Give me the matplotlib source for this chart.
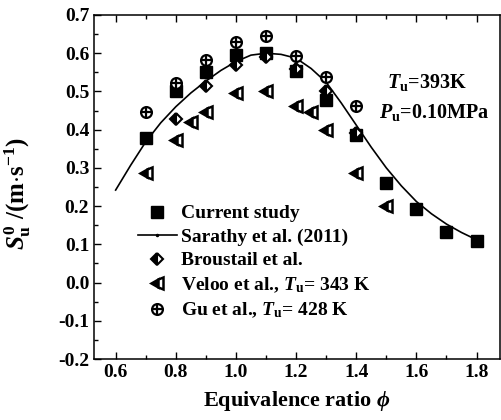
import matplotlib
matplotlib.use('Agg')
import matplotlib.pyplot as plt
from matplotlib.lines import Line2D
from matplotlib.ticker import MultipleLocator

plt.rcParams['font.family'] = ['Liberation Serif', 'DejaVu Serif']
plt.rcParams['font.weight'] = 'bold'
plt.rcParams['axes.unicode_minus'] = False
plt.rcParams['mathtext.fontset'] = 'custom'
plt.rcParams['mathtext.rm'] = 'Liberation Serif:bold'
plt.rcParams['mathtext.it'] = 'Liberation Serif:bold:italic'
plt.rcParams['mathtext.bf'] = 'Liberation Serif:bold'

# current study
cur_phi = [0.7, 0.8, 0.9, 1.0, 1.1, 1.2, 1.3, 1.4, 1.5, 1.6, 1.7, 1.8]
cur_su = [0.379, 0.500, 0.552, 0.595, 0.600, 0.554, 0.478, 0.385, 0.261, 0.192, 0.131, 0.109]

# Sarathy et al. (2011) model
sar_phi = [0.6, 0.65, 0.7, 0.75, 0.8, 0.85, 0.9, 0.95, 1.0, 1.05, 1.1, 1.15, 1.2,
           1.25, 1.3, 1.35, 1.4, 1.45, 1.5, 1.55, 1.6, 1.65, 1.7, 1.75, 1.8]
sar_su = [0.242, 0.307, 0.368, 0.418, 0.460, 0.496, 0.527, 0.555, 0.578, 0.595, 0.600, 0.597, 0.587,
          0.560, 0.524, 0.470, 0.412, 0.354, 0.300, 0.253, 0.212, 0.180, 0.153, 0.131, 0.112]

# Broustail et al.
bro_phi = [0.8, 0.9, 1.0, 1.1, 1.2, 1.3, 1.4]
bro_su = [0.427, 0.514, 0.569, 0.589, 0.560, 0.500, 0.390]

# Veloo et al., Tu = 343 K
vel_phi = [0.7, 0.8, 0.85, 0.9, 1.0, 1.1, 1.2, 1.25, 1.3, 1.4, 1.5]
vel_su = [0.287, 0.373, 0.421, 0.447, 0.495, 0.500, 0.462, 0.445, 0.399, 0.287, 0.201]

# Gu et al., Tu = 428 K
gu_phi = [0.7, 0.8, 0.9, 1.0, 1.1, 1.2, 1.3, 1.4]
gu_su = [0.445, 0.521, 0.582, 0.630, 0.645, 0.593, 0.537, 0.462]

fig = plt.figure(figsize=(5.01, 4.2), dpi=100)
ax = fig.add_axes([0.1876, 0.1452, 0.8104, 0.8191])

ax.plot(sar_phi, sar_su, color='black', lw=1.2)
sq, = ax.plot(cur_phi, cur_su, 's', color='black', ms=8, ls='none')
dia, = ax.plot(bro_phi, bro_su, 'D', ms=6.6, ls='none', mec='black', mfc='black',
               fillstyle='left', markerfacecoloralt='white', mew=1.5)
tri, = ax.plot(vel_phi, vel_su, '<', ms=9, ls='none', mec='black', mfc='black',
               fillstyle='left', markerfacecoloralt='white', mew=1.8)
gc, = ax.plot(gu_phi, gu_su, 'o', ms=7.8, ls='none', mec='black', mfc='white', mew=1.6)
gp, = ax.plot(gu_phi, gu_su, '+', ms=7.8, ls='none', color='black', mew=1.6)
line = Line2D([], [], color='black', lw=1.2, marker='.', ms=3)

ax.set_xlim(0.528, 1.878)
ax.set_ylim(-0.2, 0.7)
ax.xaxis.set_major_locator(MultipleLocator(0.2))
ax.xaxis.set_minor_locator(MultipleLocator(0.1))
ax.yaxis.set_major_locator(MultipleLocator(0.1))
ax.yaxis.set_minor_locator(MultipleLocator(0.05))
ax.tick_params(which='both', direction='in', top=True, right=False, labelsize=14)
ax.tick_params(which='major', length=5, width=1)
ax.tick_params(which='minor', length=3, width=1)
for lab in ax.get_xticklabels() + ax.get_yticklabels():
    lab.set_fontweight('bold')
for s in ax.spines.values():
    s.set_linewidth(1.1)

ax.set_xlabel(r'Equivalence ratio $\phi$', fontsize=16, fontweight='bold', labelpad=6)
ax.set_ylabel(r'$S_{\rm u}^{0}$ /(m$\cdot$s$^{-1}$)', fontsize=18, fontweight='bold')
ax.yaxis.set_label_coords(-0.15, 0.48)

ax.text(0.918, 0.788, r'$T_{\rm u}$=393K', transform=ax.transAxes, ha='right',
        va='baseline', fontsize=14.5, fontweight='bold')
ax.text(0.975, 0.70, r'$P_{\rm u}$=0.10MPa', transform=ax.transAxes, ha='right',
        va='baseline', fontsize=14.5, fontweight='bold')

leg = ax.legend([sq, line, dia, tri, (gc, gp)],
                ['Current study', 'Sarathy et al. (2011)', 'Broustail et al.',
                 r'Veloo et al., $T_{\rm u}$= 343 K', r'Gu et al., $T_{\rm u}$= 428 K'],
                loc='lower left', bbox_to_anchor=(0.108, 0.113), frameon=False,
                fontsize=14, handlelength=2.0, handletextpad=0.2, labelspacing=0.3,
                borderaxespad=0, borderpad=0)
for t in leg.get_texts():
    t.set_fontweight('bold')

fig.savefig('out.png', dpi=100)
